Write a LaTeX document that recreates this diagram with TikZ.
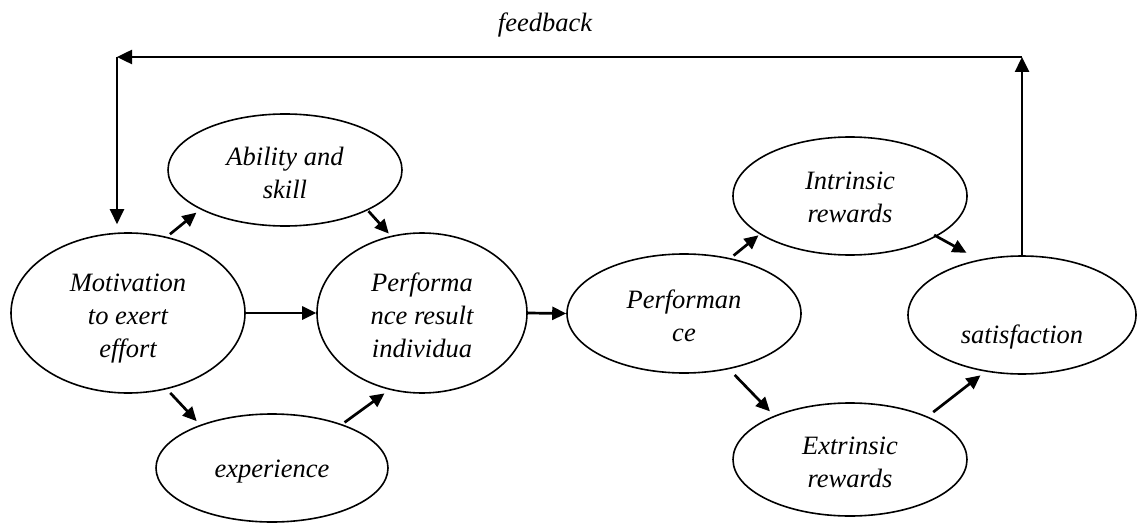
\documentclass[tikz,border=0pt]{standalone}
\usepackage{fontspec}
\setmainfont{Liberation Serif}
\usetikzlibrary{shapes.geometric,arrows.meta}
\newcommand{\lowtext}[2]{\raisebox{-#1}[\height][\depth]{\begin{tabular}{@{}c@{}}#2\end{tabular}}}
\begin{document}
\begin{tikzpicture}[x=1pt,y=-1pt,
  txt/.style={font=\itshape\fontsize{26.5}{33}\selectfont},
  oval/.style={ellipse,draw,line width=1.6pt,inner sep=0pt,txt},
  arr/.style={line width=2.7pt,-{Triangle[length=14pt,width=13pt]}},
  fb/.style={line width=2.5pt,-{Triangle[length=15pt,width=14pt]}}]
\useasboundingbox (0,0) rectangle (1137,524);
% ellipses
\node[oval,minimum width=234pt,minimum height=160pt] (mot) at (128,313) {\lowtext{5pt}{Motivation\\to exert\\effort}};
\node[oval,minimum width=234pt,minimum height=112pt] (abil) at (285,170) {\lowtext{5pt}{Ability and\\skill}};
\node[oval,minimum width=232pt,minimum height=108pt] (exp) at (272,468) {\lowtext{3pt}{experience}};
\node[oval,minimum width=210pt,minimum height=160pt] (pr) at (422,313) {\lowtext{5pt}{Performa\\nce result\\individua}};
\node[oval,minimum width=234pt,minimum height=119pt] (perf) at (684,313.5) {\lowtext{5pt}{Performan\\ce}};
\node[oval,minimum width=234pt,minimum height=118pt] (intr) at (850,196) {\lowtext{3pt}{Intrinsic\\rewards}};
\node[oval,minimum width=234pt,minimum height=113pt] (extr) at (850,459.5) {\lowtext{5pt}{Extrinsic\\rewards}};
\node[oval,minimum width=228pt,minimum height=118pt] (sat) at (1022,315) {\lowtext{22pt}{satisfaction}};
% feedback label
\node[txt] (fbtext) at (545,25) {feedback};
% connectors
\draw[arr,shorten <=4pt,shorten >=5pt] (mot.63) -- (abil.205);
\draw[arr,shorten <=1pt,shorten >=3pt] (abil.-26) -- (pr.112);
\draw[arr] (mot.east) -- (pr.west);
\draw[arr,shorten <=5pt,shorten >=5pt] (mot.-63) -- (exp.149);
\draw[arr,shorten <=3pt,shorten >=6pt] (exp.32) -- (pr.247);
\draw[arr] (pr.east) -- (perf.west);
\draw[arr,shorten <=4pt,shorten >=1.5pt] (perf.50) -- (intr.203);
\draw[arr,shorten <=8pt,shorten >=6pt] (perf.-51) -- (extr.150);
\draw[arr,shorten <=-3pt,shorten >=14pt] (intr.-25) -- (sat.128);
\draw[arr,shorten <=7pt,shorten >=6pt] (extr.29) -- (sat.237);
% feedback loop
\coordinate (fbR) at (1022,57);
\coordinate (fbL) at (117,57);
\draw[fb] (sat.north) -- (fbR);
\draw[fb] (fbR) -- (fbL);
\draw[fb,shorten >=8pt] (fbL) -- (fbL |- mot.north);
\end{tikzpicture}
\end{document}
